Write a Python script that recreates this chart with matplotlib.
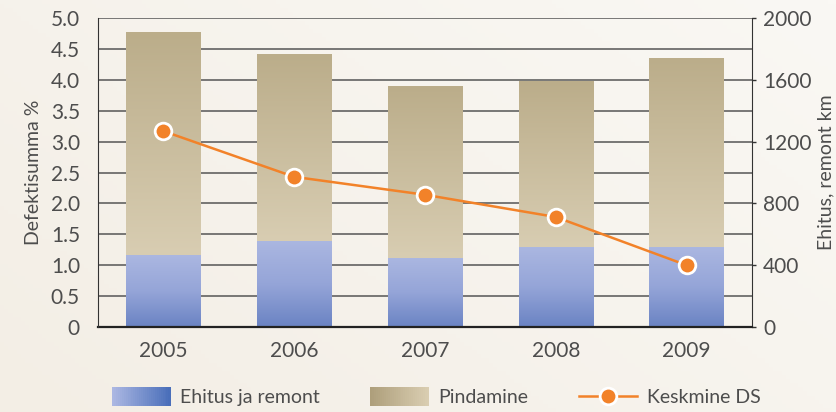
import matplotlib
matplotlib.use("Agg")
import matplotlib.pyplot as plt
import matplotlib.patches as patches
from matplotlib.legend_handler import HandlerBase
from matplotlib.lines import Line2D
from matplotlib.colors import LinearSegmentedColormap
from matplotlib.ticker import MultipleLocator
import numpy as np

plt.rcParams["font.family"] = ["Lato", "DejaVu Sans"]

years = ["2005", "2006", "2007", "2008", "2009"]
ehitus_km = [466, 557, 447, 518, 518]        # Ehitus ja remont
pindamine_km = [1443, 1210, 1113, 1068, 1217]  # Pindamine (on top)
keskmine_ds = [3.17, 2.43, 2.14, 1.78, 1.00]   # Keskmine DS, %

TXT = "#4d4d4d"
BLUE_BAR = LinearSegmentedColormap.from_list("b", ["#6a83c3", "#95a5d8", "#abb7e1"])
TAN_BAR = LinearSegmentedColormap.from_list("t", ["#d8cdb2", "#bbad8a"])
ORANGE = "#f28229"

fig = plt.figure(figsize=(8.36, 4.12), dpi=100)

# soft background gradient
bg = fig.add_axes([0, 0, 1, 1], zorder=-10)
gx, gy = np.meshgrid(np.linspace(0, 1, 200), np.linspace(0, 1, 100))
bg.imshow(gx * 0.6 + gy * 0.4, cmap=LinearSegmentedColormap.from_list("bg", ["#f3eee5", "#faf8f4"]),
          aspect="auto", extent=(0, 1, 0, 1), origin="lower")
bg.axis("off")

ax = fig.add_axes([0.1172, 0.2063, 0.7823, 0.75])
ax.set_facecolor("none")
ax2 = ax.twinx()
ax2.set_facecolor("none")

x = np.arange(len(years))
w = 0.57

# bars on the km axis (drawn below)
b1 = ax.bar(x, ehitus_km, w, color="none", zorder=2)
b2 = ax.bar(x, pindamine_km, w, bottom=ehitus_km, color="none", zorder=2)
grad = np.linspace(0, 1, 256).reshape(-1, 1)
for r in b1:
    ax.imshow(grad, cmap=BLUE_BAR, aspect="auto", origin="lower", zorder=2,
              extent=(r.get_x(), r.get_x() + r.get_width(), r.get_y(), r.get_y() + r.get_height()))
for r in b2:
    ax.imshow(grad, cmap=TAN_BAR, aspect="auto", origin="lower", zorder=2,
              extent=(r.get_x(), r.get_x() + r.get_width(), r.get_y(), r.get_y() + r.get_height()))

ax.set_xlim(-0.5, len(years) - 0.5)
ax.set_ylim(0, 2000)
ax.yaxis.tick_right()
ax.yaxis.set_label_position("right")
ax.yaxis.set_major_locator(MultipleLocator(400))
ax.yaxis.set_minor_locator(MultipleLocator(200))
ax.set_axisbelow(True)
ax.grid(axis="y", which="both", color="#555555", linewidth=1.1)
ax.tick_params(axis="y", which="major", length=3, width=1, color="#333333", pad=5,
               labelsize=15, labelcolor=TXT)
ax.tick_params(axis="y", which="minor", length=0)
ax.tick_params(axis="x", length=0, pad=10, labelsize=15, labelcolor=TXT)
ax.set_xticks(x)
ax.set_xticklabels(years)
ax.set_ylabel("Ehitus, remont km", fontsize=14, color=TXT, labelpad=4)

ax.spines["top"].set_visible(False)
ax.spines["left"].set_visible(False)
ax.spines["right"].set_color("#333333")
ax.spines["bottom"].set_color("#222222")
ax.spines["bottom"].set_linewidth(1.6)

# percent axis on the left, line on top
ax2.yaxis.tick_left()
ax2.yaxis.set_label_position("left")
ax2.set_ylim(0, 5.0)
ax2.set_yticks(np.arange(0, 5.01, 0.5))
ax2.set_yticklabels(["0"] + [f"{v:.1f}" for v in np.arange(0.5, 5.01, 0.5)])
ax2.tick_params(axis="y", length=0, pad=13, labelsize=15, labelcolor=TXT)
ax2.set_ylabel("Defektisumma %", fontsize=14, color=TXT, labelpad=6)
for s in ["top", "right", "bottom"]:
    ax2.spines[s].set_visible(False)
ax2.spines["left"].set_color("#333333")

ax2.plot(x, keskmine_ds, color=ORANGE, linewidth=1.8, marker="o", markersize=12,
         markerfacecolor=ORANGE, markeredgecolor="white", markeredgewidth=2, zorder=5)


class GradHandler(HandlerBase):
    def __init__(self, c0, c1):
        super().__init__()
        self.cmap = LinearSegmentedColormap.from_list("h", [c0, c1])

    def create_artists(self, legend, orig_handle, xdescent, ydescent, width, height, fontsize, trans):
        n = 30
        arts = []
        for i in range(n):
            arts.append(patches.Rectangle((-xdescent + i * width / n, -ydescent - 2), width / n + 0.3, height + 4,
                                          facecolor=self.cmap(i / (n - 1)), edgecolor="none", transform=trans))
        return arts


h1 = patches.Rectangle((0, 0), 1, 1)
h2 = patches.Rectangle((0, 0), 1, 1)
h3 = Line2D([], [], color=ORANGE, linewidth=1.8, marker="o", markersize=12,
            markerfacecolor=ORANGE, markeredgecolor="white", markeredgewidth=2)
leg = fig.legend([h1, h2, h3], ["Ehitus ja remont", "Pindamine", "Keskmine DS"],
                 handler_map={h1: GradHandler("#abb7e2", "#4a6fba"), h2: GradHandler("#ae9f7b", "#d9cdb1")},
                 loc="center", bbox_to_anchor=(0.522, 0.035), ncol=3, frameon=False,
                 handlelength=3.0, handletextpad=0.5, columnspacing=2.6,
                 prop={"size": 14})
for t in leg.get_texts():
    t.set_color(TXT)

fig.savefig("out.png", dpi=100, facecolor=fig.get_facecolor())
